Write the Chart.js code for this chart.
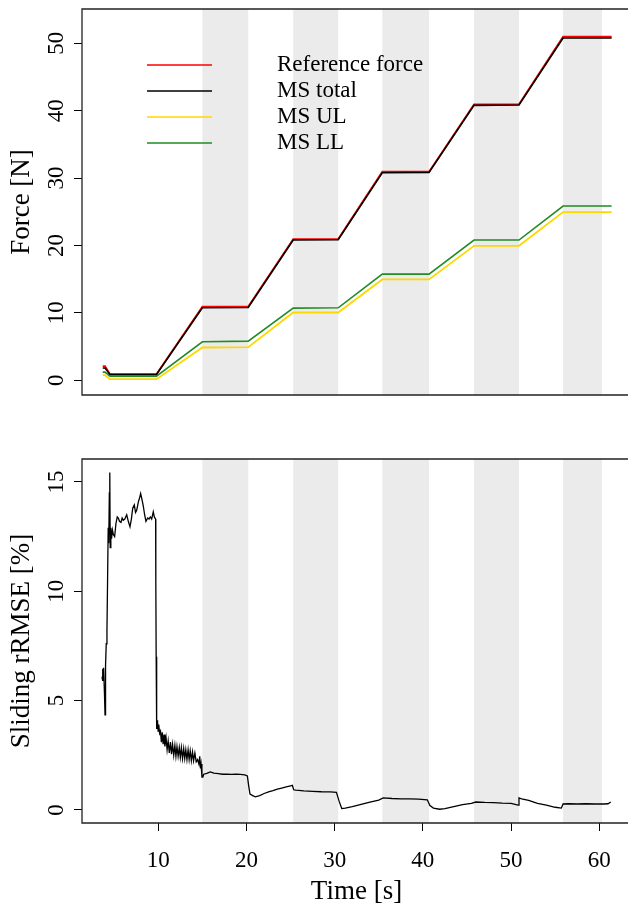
<!DOCTYPE html>
<html>
<head>
<meta charset="utf-8">
<script src="https://cdn.jsdelivr.net/npm/chart.js@4/dist/chart.umd.min.js"></script>
<style>
  html, body { margin: 0; padding: 0; background: #fff; overflow: hidden; }
  #wrap { position: relative; width: 628px; height: 906px; overflow: hidden; }
  canvas { position: absolute; left: 0; }
  #forceChart { top: 0; }
  #rmseChart { top: 440px; }
</style>
</head>
<body>
<div id="wrap">
  <canvas id="forceChart" width="640" height="420"></canvas>
  <canvas id="rmseChart" width="640" height="466"></canvas>
</div>
<script>
// Plateau periods (grey bands), seconds
const bandStart = [15.0, 25.3, 35.4, 45.8, 55.9];
const bandEnd   = [20.2, 30.4, 40.7, 50.9, 60.3];

// Force profile breakpoints
const forceTime = [3.7, 3.96, 4.52, 9.8, 15.0, 20.2, 25.3, 30.4, 35.4, 40.7, 45.8, 50.9, 55.9, 61.4];
const refForce  = [2.1, 2.1, 0.9, 0.9, 10.9, 10.95, 20.95, 20.95, 30.95, 30.95, 40.95, 40.95, 51.0, 51.0];
const msTotal   = [1.8, 1.8, 0.85, 0.85, 10.75, 10.8, 20.8, 20.85, 30.8, 30.85, 40.8, 40.85, 50.8, 50.8];
const msUL      = [0.75, 0.75, 0.15, 0.15, 4.85, 4.9, 10.05, 10.05, 14.95, 14.95, 19.95, 19.95, 24.95, 24.95];
const msLL      = [1.2, 1.2, 0.6, 0.6, 5.7, 5.8, 10.7, 10.75, 15.75, 15.75, 20.8, 20.8, 25.85, 25.85];

// Sliding rRMSE
const rmseTime = [3.62, 3.68, 3.72, 3.8, 3.9, 3.96, 4.02, 4.1, 4.18, 4.25, 4.32, 4.38, 4.45, 4.5, 4.55, 4.62,
  4.7, 4.8, 4.9, 5.05, 5.2, 5.35, 5.47, 5.6, 5.77, 5.9, 6.03, 6.2, 6.42, 6.6, 6.79, 6.95, 7.1, 7.28, 7.42,
  7.55, 7.75, 7.9, 8.0, 8.15, 8.3, 8.45, 8.6, 8.8, 8.95, 9.1, 9.25, 9.43, 9.55, 9.7, 9.72, 9.76, 9.8, 9.83,
  9.86, 9.9, 9.94, 9.98, 10.05, 10.15, 10.25, 10.35, 10.45, 10.55, 10.65, 10.75, 10.88, 11.0, 11.12, 11.25,
  11.38, 11.5, 11.62, 11.75, 11.88, 12.0, 12.12, 12.25, 12.38, 12.5, 12.62, 12.75, 12.88, 13.0, 13.12, 13.25,
  13.38, 13.5, 13.62, 13.75, 13.88, 14.0, 14.15, 14.3, 14.45, 14.6, 14.7, 14.78, 14.85, 14.95, 15.05, 15.15,
  15.5, 15.9, 16.3, 16.8, 17.3, 17.8, 18.3, 18.8, 19.3, 19.8, 20.1, 20.25, 20.4, 20.7, 21.0, 21.5, 22.0, 22.5,
  23.0, 23.5, 24.0, 24.5, 25.0, 25.2, 25.35, 25.6, 26.5, 27.5, 28.5, 29.5, 30.2, 30.5, 30.8, 31.2, 32.0, 33.0,
  34.0, 35.0, 35.5, 36.5, 37.5, 38.5, 39.5, 40.5, 40.8, 41.2, 41.9, 42.5, 43.5, 44.5, 45.5, 46.0, 47.0, 48.0,
  49.0, 50.0, 50.8, 50.9, 51.2, 52.0, 53.0, 54.0, 55.0, 55.7, 55.9, 56.5, 57.5, 58.5, 59.5, 60.5, 61.0, 61.3];
const rmseVals = [6.1, 6.45, 5.9, 6.5, 5.3, 4.35, 6.6, 7.6, 8.2, 10.5, 12.9, 12.2, 14.5, 15.43, 12.0, 12.9,
  12.4, 12.8, 12.6, 12.5, 13.1, 13.4, 13.35, 13.2, 13.15, 13.35, 13.25, 13.3, 13.5, 13.2, 12.95, 13.3, 13.8, 13.95, 13.6,
  13.7, 14.1, 14.3, 14.47, 14.2, 13.9, 13.5, 13.2, 13.35, 13.3, 13.4, 13.3, 13.63, 13.4, 13.3, 10.5, 7.0, 4.2, 3.7,
  4.1, 3.7, 4.0, 3.6, 3.9, 3.5, 3.6, 3.1, 3.55, 3.0, 3.45, 2.9, 3.3, 2.75, 3.15, 2.6,
  3.1, 2.55, 3.0, 2.5, 2.95, 2.45, 2.9, 2.45, 2.85, 2.4, 2.85, 2.35, 2.8, 2.35, 2.75, 2.3,
  2.75, 2.3, 2.7, 2.25, 2.65, 2.25, 2.6, 2.2, 2.3, 2.1, 2.45, 1.9, 2.1, 1.5, 1.5, 1.63,
  1.67, 1.74, 1.68, 1.66, 1.63, 1.64, 1.62, 1.63, 1.62, 1.6, 1.55, 1.1, 0.72, 0.65, 0.6, 0.65, 0.75, 0.82,
  0.88, 0.95, 1.0, 1.05, 1.1, 1.12, 0.92, 0.9, 0.87, 0.85, 0.83, 0.82, 0.8, 0.4, 0.06, 0.08, 0.15, 0.25,
  0.35, 0.45, 0.55, 0.52, 0.5, 0.5, 0.49, 0.46, 0.2, 0.08, 0.03, 0.06, 0.15, 0.24, 0.3, 0.36, 0.34, 0.33,
  0.31, 0.3, 0.22, 0.55, 0.5, 0.43, 0.3, 0.22, 0.12, 0.08, 0.27, 0.28, 0.27, 0.28, 0.27, 0.27, 0.28, 0.36];

// Axis ticks
const timeTicks = [10, 20, 30, 40, 50, 60];
const forceTicks = [0, 10, 20, 30, 40, 50];
const rmseTicks = [0, 5, 10, 15];

const SERIF = "'Liberation Serif', 'Times New Roman', serif";
Chart.defaults.font.family = SERIF;
Chart.defaults.color = "#000";

const toPoints = (xs, ys) => xs.map((x, i) => ({ x: x, y: ys[i] }));

// Grey plateau bands behind the lines
const bandsPlugin = {
  id: "bands",
  beforeDatasetsDraw(chart) {
    const { ctx, chartArea: a, scales: { x } } = chart;
    ctx.save();
    ctx.fillStyle = "#ebebeb";
    bandStart.forEach((s, i) => {
      const x1 = x.getPixelForValue(s);
      const x2 = x.getPixelForValue(bandEnd[i]);
      ctx.fillRect(x1, a.top, x2 - x1, a.bottom - a.top);
    });
    ctx.restore();
  }
};

// Box round the plot region (right side falls outside the window) and vertical y tick labels
const framePlugin = {
  id: "frame",
  afterDraw(chart) {
    const { ctx, chartArea: a, scales: { y } } = chart;
    ctx.save();
    ctx.strokeStyle = "#222";
    ctx.lineWidth = 1.3;
    ctx.beginPath();
    ctx.moveTo(a.right, a.top);
    ctx.lineTo(a.left, a.top);
    ctx.lineTo(a.left, a.bottom);
    ctx.lineTo(a.right, a.bottom);
    ctx.stroke();
    ctx.fillStyle = "#000";
    ctx.font = "23px " + SERIF;
    ctx.textAlign = "center";
    ctx.textBaseline = "middle";
    y.ticks.forEach(t => {
      ctx.save();
      ctx.translate(a.left - 25, y.getPixelForValue(t.value));
      ctx.rotate(-Math.PI / 2);
      ctx.fillText(String(t.value), 0, 0);
      ctx.restore();
    });
    ctx.restore();
  }
};

// Legend in the upper left of the force panel
const legendPlugin = {
  id: "forceLegend",
  afterDraw(chart) {
    const ctx = chart.ctx;
    ctx.save();
    ctx.font = "23px " + SERIF;
    ctx.textBaseline = "middle";
    ctx.fillStyle = "#000";
    chart.data.datasets.forEach((ds, i) => {
      const yy = 65 + i * 26;
      ctx.strokeStyle = ds.borderColor;
      ctx.lineWidth = 1.4;
      ctx.beginPath();
      ctx.moveTo(147, yy);
      ctx.lineTo(212, yy);
      ctx.stroke();
      ctx.fillText(ds.label, 277, yy);
    });
    ctx.restore();
  }
};

const xRange = { min: 1.35, max: 63.6 };

function yAxis(title, ticks, min, max) {
  return {
    type: "linear",
    min: min,
    max: max,
    afterBuildTicks: s => { s.ticks = ticks.map(v => ({ value: v })); },
    afterFit: s => { s.width = 82; },
    ticks: { display: false },
    grid: { drawOnChartArea: false, drawTicks: true, tickLength: 8, color: "#000", lineWidth: 1 },
    border: { display: false },
    title: { display: true, text: title, font: { size: 27, family: SERIF }, padding: { top: 6, bottom: 0 } }
  };
}

const lineStyle = { pointRadius: 0, tension: 0, fill: false };

new Chart(document.getElementById("forceChart"), {
  type: "line",
  data: {
    datasets: [
      { label: "Reference force", data: toPoints(forceTime, refForce), borderColor: "#ff0000", borderWidth: 1.8, order: 1, ...lineStyle },
      { label: "MS total", data: toPoints(forceTime, msTotal), borderColor: "#000000", borderWidth: 1.6, order: 0, ...lineStyle },
      { label: "MS UL", data: toPoints(forceTime, msUL), borderColor: "#ffd700", borderWidth: 1.8, order: 3, ...lineStyle },
      { label: "MS LL", data: toPoints(forceTime, msLL), borderColor: "#228b22", borderWidth: 1.6, order: 2, ...lineStyle }
    ]
  },
  options: {
    responsive: false,
    animation: false,
    devicePixelRatio: 1,
    layout: { padding: { top: 9, right: 9, bottom: 25, left: 0 } },
    plugins: { legend: { display: false }, tooltip: { enabled: false } },
    scales: {
      x: { type: "linear", display: false, min: xRange.min, max: xRange.max },
      y: yAxis("Force [N]", forceTicks, -2.2, 55.1)
    }
  },
  plugins: [bandsPlugin, framePlugin, legendPlugin]
});

new Chart(document.getElementById("rmseChart"), {
  type: "line",
  data: {
    datasets: [
      { label: "Sliding rRMSE", data: toPoints(rmseTime, rmseVals), borderColor: "#000", borderWidth: 1.3, ...lineStyle }
    ]
  },
  options: {
    responsive: false,
    animation: false,
    devicePixelRatio: 1,
    layout: { padding: { top: 19, right: 9, bottom: 0, left: 0 } },
    plugins: { legend: { display: false }, tooltip: { enabled: false } },
    scales: {
      x: {
        type: "linear",
        min: xRange.min,
        max: xRange.max,
        afterBuildTicks: s => { s.ticks = timeTicks.map(v => ({ value: v })); },
        afterFit: s => { s.height = 83; },
        ticks: { font: { size: 23, family: SERIF }, padding: 16, maxRotation: 0 },
        grid: { drawOnChartArea: false, drawTicks: true, tickLength: 8, color: "#000", lineWidth: 1 },
        border: { display: false },
        title: { display: true, text: "Time [s]", font: { size: 27, family: SERIF, lineHeight: 1 }, padding: { top: 0, bottom: 1 } }
      },
      y: yAxis("Sliding rRMSE [%]", rmseTicks, -0.6, 16.05)
    }
  },
  plugins: [bandsPlugin, framePlugin]
});
</script>
</body>
</html>
